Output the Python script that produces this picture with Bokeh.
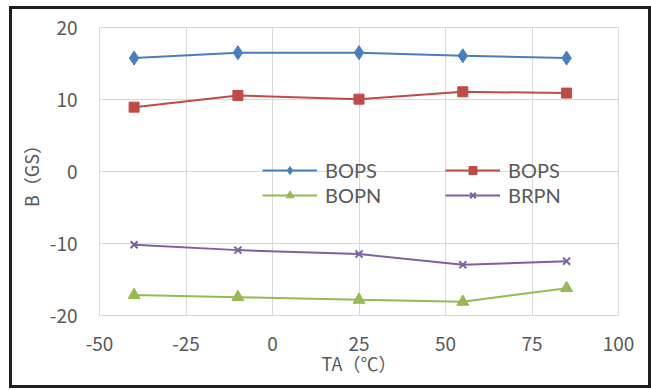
from bokeh.plotting import figure
from bokeh.models import Range1d, FixedTicker, Legend, LegendItem
from bokeh.embed import file_html
from bokeh.resources import INLINE

# Ambient temperature (°C) and magnetic switch points (GS)
ta = [-40, -10, 25, 55, 85]
bops_a = [15.75, 16.5, 16.5, 16.07, 15.75]
bops_b = [8.94, 10.56, 10.05, 11.07, 10.89]
bopn = [-17.17, -17.45, -17.82, -18.1, -16.2]
brpn = [-10.18, -10.92, -11.47, -12.96, -12.45]

x_ticks = [-50, -25, 0, 25, 50, 75, 100]
y_ticks = [-20, -10, 0, 10, 20]

FONT = "Noto Sans CJK SC"
LEGEND_FONT = "Lato"
TEXT = "#595959"
GRID = "#d9d9d9"

p = figure(width=636, height=376, output_backend="svg", toolbar_location=None,
           x_range=Range1d(-50, 100), y_range=Range1d(-20, 20),
           min_border_left=87, min_border_right=30,
           min_border_top=18, min_border_bottom=70,
           x_axis_label="TA（℃）", y_axis_label="B（GS）")
# dark chart-area border drawn around the whole figure
p.styles = {"margin-left": "12px", "margin-top": "9px",
            "box-shadow": "0 0 0 3px #1e1e1e"}

p.outline_line_color = GRID
p.xaxis.ticker = FixedTicker(ticks=x_ticks)
p.yaxis.ticker = FixedTicker(ticks=y_ticks)
p.xaxis.major_label_overrides = {t: str(t) for t in x_ticks}
p.yaxis.major_label_overrides = {t: str(t) for t in y_ticks}
for ax in (p.xaxis, p.yaxis):
    ax.axis_line_color = None
    ax.major_tick_line_color = None
    ax.minor_tick_line_color = None
    ax.major_label_text_font = FONT
    ax.major_label_text_font_size = "19px"
    ax.major_label_text_color = TEXT
    ax.axis_label_text_font = FONT
    ax.axis_label_text_font_size = "18px"
    ax.axis_label_text_color = TEXT
    ax.axis_label_text_font_style = "normal"
p.yaxis.major_label_standoff = 16
p.xaxis.major_label_standoff = 15
p.xaxis.axis_label_standoff = -4
p.yaxis.axis_label_standoff = 3
p.xgrid.ticker = FixedTicker(ticks=x_ticks)
p.ygrid.ticker = FixedTicker(ticks=y_ticks)
p.grid.grid_line_color = GRID
p.grid.grid_line_width = 1

BLUE, RED, GREEN, PURPLE = "#4a7ebb", "#be4b48", "#98b954", "#7d60a0"

l1 = p.line(ta, bops_a, line_color=BLUE, line_width=2)
m1 = p.scatter(ta, bops_a, marker="diamond", size=14, color=BLUE)
l2 = p.line(ta, bops_b, line_color=RED, line_width=2)
m2 = p.scatter(ta, bops_b, marker="square", size=10, color=RED)
l3 = p.line(ta, bopn, line_color=GREEN, line_width=2)
m3 = p.scatter(ta, bopn, marker="triangle", size=12, color=GREEN)
l4 = p.line(ta, brpn, line_color=PURPLE, line_width=2)
m4 = p.scatter(ta, brpn, marker="x", size=10, color=PURPLE, line_width=2)


def make_legend(items, loc):
    lg = Legend(items=items, location=loc, orientation="vertical",
                padding=0, margin=0, spacing=1,
                glyph_width=55, glyph_height=20, label_height=20,
                label_standoff=8, border_line_color=None,
                background_fill_alpha=0,
                label_text_font=LEGEND_FONT, label_text_font_size="20px",
                label_text_color=TEXT)
    p.add_layout(lg)
    return lg


make_legend([LegendItem(label="BOPS", renderers=[l1, m1]),
             LegendItem(label="BOPN", renderers=[l3, m3])], (163, 108))
make_legend([LegendItem(label="BOPS", renderers=[l2, m2]),
             LegendItem(label="BRPN", renderers=[l4, m4])], (346, 108))

open("out.html", "w").write(file_html(p, INLINE))
